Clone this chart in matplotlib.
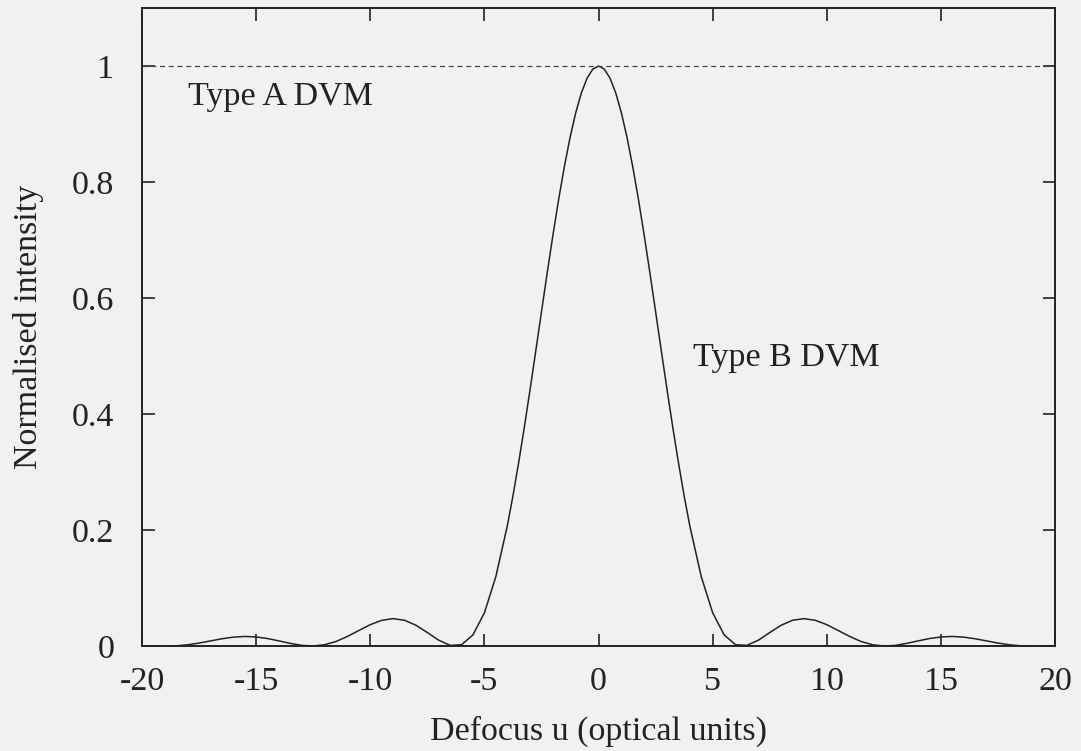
import matplotlib
matplotlib.use("Agg")
import matplotlib.pyplot as plt

# defocus samples (optical units) and normalised axial intensity
defocus = [-18.85, -18.5, -18.0, -17.5, -17.0, -16.5, -16.0, -15.5, -15.0, -14.5,
           -14.0, -13.5, -13.0, -12.5, -12.0, -11.5, -11.0, -10.5, -10.0, -9.5,
           -9.0, -8.5, -8.0, -7.5, -7.0, -6.5, -6.0, -5.5, -5.0, -4.5,
           -4.0, -3.75, -3.5, -3.25, -3.0, -2.75, -2.5, -2.25, -2.0, -1.75,
           -1.5, -1.25, -1.0, -0.75, -0.5, -0.25, 0.0,
           0.25, 0.5, 0.75, 1.0, 1.25, 1.5, 1.75, 2.0, 2.25, 2.5,
           2.75, 3.0, 3.25, 3.5, 3.75, 4.0,
           4.5, 5.0, 5.5, 6.0, 6.5, 7.0, 7.5, 8.0, 8.5, 9.0, 9.5, 10.0,
           10.5, 11.0, 11.5, 12.0, 12.5, 13.0, 13.5, 14.0, 14.5, 15.0,
           15.5, 16.0, 16.5, 17.0, 17.5, 18.0, 18.5, 18.85]
intensity = [0.0, 0.0004, 0.0021, 0.0051, 0.0088, 0.0125, 0.0153, 0.0165, 0.0156, 0.0129,
             0.0088, 0.0045, 0.0011, 0.0000, 0.0022, 0.0078, 0.0165, 0.0268, 0.0368, 0.0443,
             0.0472, 0.0444, 0.0358, 0.0232, 0.0100, 0.0011, 0.0022, 0.0193, 0.0573, 0.1196,
             0.2067, 0.2589, 0.3162, 0.3776, 0.4422, 0.5089, 0.5764, 0.6432, 0.7081, 0.7695,
             0.8260, 0.8764, 0.9194, 0.9540, 0.9793, 0.9948, 1.0,
             0.9948, 0.9793, 0.9540, 0.9194, 0.8764, 0.8260, 0.7695, 0.7081, 0.6432, 0.5764,
             0.5089, 0.4422, 0.3776, 0.3162, 0.2589, 0.2067,
             0.1196, 0.0573, 0.0193, 0.0022, 0.0011, 0.0100, 0.0232, 0.0358, 0.0444, 0.0472, 0.0443, 0.0368,
             0.0268, 0.0165, 0.0078, 0.0022, 0.0000, 0.0011, 0.0045, 0.0088, 0.0129, 0.0156,
             0.0165, 0.0153, 0.0125, 0.0088, 0.0051, 0.0021, 0.0004, 0.0]

x_ticks = [-20, -15, -10, -5, 0, 5, 10, 15, 20]
y_ticks = [0, 0.2, 0.4, 0.6, 0.8, 1]
y_tick_labels = ["0", "0.2", "0.4", "0.6", "0.8", "1"]
type_a_level = 1.0

plt.rcParams["font.family"] = ["Liberation Serif", "DejaVu Serif"]
bg = "#f1f1ef"
ink = "#222222"
fs = 24.5

fig = plt.figure(figsize=(10.81, 7.51), dpi=100, facecolor=bg)
ax = fig.add_axes([0.1314, 0.1398, 0.8446, 0.8495], facecolor=bg)

ax.plot(defocus, intensity, color=ink, lw=1.1)
ax.axhline(type_a_level, color="#444444", lw=0.9, dashes=(4, 3))

ax.text(-18, 0.947, "Type A DVM", fontsize=fs, va="center", ha="left", color=ink)
ax.text(4.15, 0.497, "Type B DVM", fontsize=fs, va="center", ha="left", color=ink)

ax.set_xlim(-20, 20)
ax.set_ylim(0, 1.1)
ax.set_xticks(x_ticks)
ax.set_xticklabels([str(t) for t in x_ticks])
ax.set_yticks(y_ticks)
ax.set_yticklabels(y_tick_labels)

ax.tick_params(direction="in", length=9, width=1.2, labelsize=fs,
               top=True, right=True, colors=ink)
ax.tick_params(axis="x", pad=15)
ax.tick_params(axis="y", pad=20)
for s in ax.spines.values():
    s.set_linewidth(1.4)
    s.set_color(ink)

ax.set_xlabel("Defocus u (optical units)", fontsize=fs, color=ink, labelpad=13)
ax.set_ylabel("Normalised intensity", fontsize=fs, color=ink, labelpad=20)

fig.savefig("out.png", dpi=100, facecolor=bg)
